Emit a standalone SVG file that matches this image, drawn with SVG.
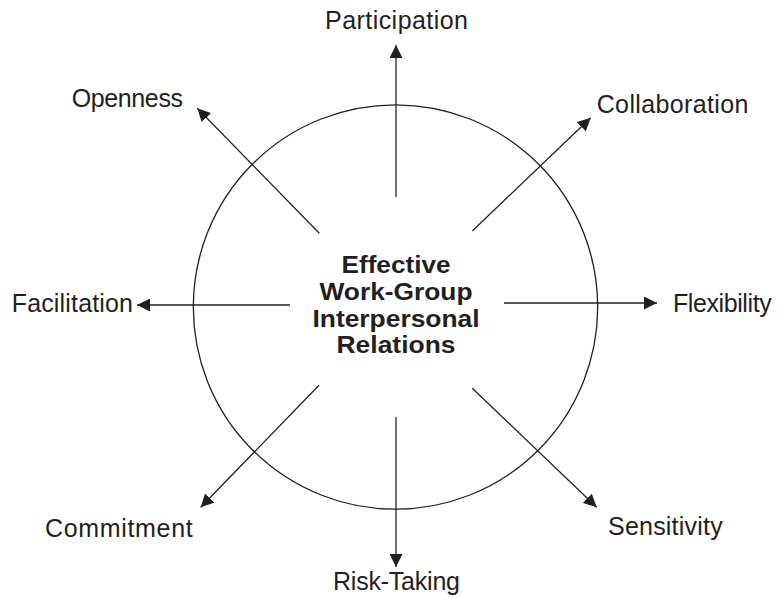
<svg xmlns="http://www.w3.org/2000/svg" width="778" height="598" viewBox="0 0 778 598">
<style>
.lbl{font-family:"Liberation Sans",Arial,sans-serif;font-size:25px;fill:#231f20}
.ctr{font-family:"Liberation Sans",Arial,sans-serif;font-size:23px;font-weight:bold;fill:#231f20;text-anchor:middle}
.ln{stroke:#231f20;stroke-width:1.3;fill:none}
</style>
<defs>
<marker id="ah" markerUnits="userSpaceOnUse" markerWidth="14" markerHeight="13" refX="13" refY="6.5" orient="auto">
<path d="M0,0 L13,6.5 L0,13 z" fill="#231f20"/>
</marker>
</defs>
<rect width="778" height="598" fill="#ffffff"/>
<g id="hub">
<circle cx="395.5" cy="307" r="202.2" class="ln"/>
<text class="ctr" x="396" y="273" textLength="109" lengthAdjust="spacingAndGlyphs">Effective</text>
<text class="ctr" x="396" y="300" textLength="153" lengthAdjust="spacingAndGlyphs">Work-Group</text>
<text class="ctr" x="396" y="327" textLength="167" lengthAdjust="spacingAndGlyphs">Interpersonal</text>
<text class="ctr" x="396" y="353" textLength="119" lengthAdjust="spacingAndGlyphs">Relations</text>
</g>
<g id="connectors">
<line class="ln" x1="396" y1="197" x2="396" y2="45" marker-end="url(#ah)"/>
<line class="ln" x1="396" y1="417" x2="396" y2="567" marker-end="url(#ah)"/>
<line class="ln" x1="290" y1="305" x2="137" y2="305" marker-end="url(#ah)"/>
<line class="ln" x1="504" y1="303" x2="657" y2="303" marker-end="url(#ah)"/>
<line class="ln" x1="319.3" y1="233.3" x2="197.3" y2="108.3" marker-end="url(#ah)"/>
<line class="ln" x1="472.3" y1="231" x2="590.7" y2="117.7" marker-end="url(#ah)"/>
<line class="ln" x1="319" y1="385.3" x2="200.7" y2="507.3" marker-end="url(#ah)"/>
<line class="ln" x1="472.3" y1="388.3" x2="596.7" y2="507.3" marker-end="url(#ah)"/>
</g>
<g id="participation"><text class="lbl" x="325" y="29" textLength="143">Participation</text></g>
<g id="openness"><text class="lbl" x="71.7" y="106.7" textLength="111.3">Openness</text></g>
<g id="collaboration"><text class="lbl" x="596.7" y="113" textLength="151.7">Collaboration</text></g>
<g id="facilitation"><text class="lbl" x="11.7" y="311.7" textLength="121.3">Facilitation</text></g>
<g id="flexibility"><text class="lbl" x="673" y="311.7" textLength="98.7">Flexibility</text></g>
<g id="commitment"><text class="lbl" x="45" y="537" textLength="147.7">Commitment</text></g>
<g id="sensitivity"><text class="lbl" x="608" y="535" textLength="114.7">Sensitivity</text></g>
<g id="risk-taking"><text class="lbl" x="333" y="590" textLength="127">Risk-Taking</text></g>
</svg>
